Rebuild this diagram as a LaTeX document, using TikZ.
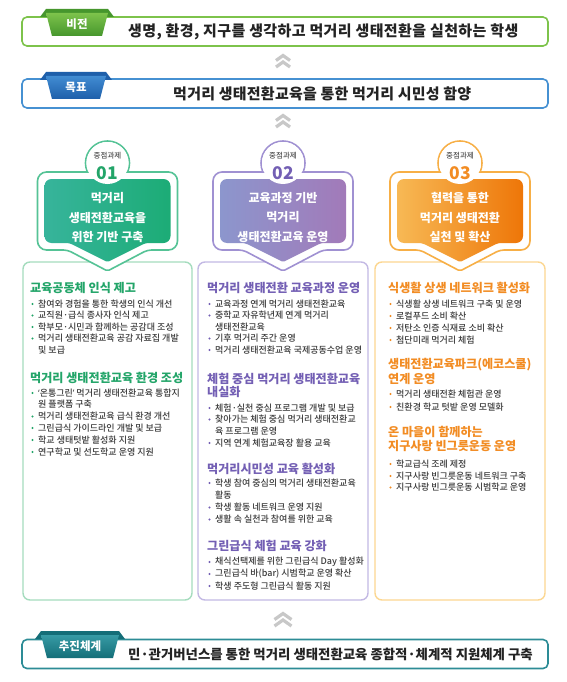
\documentclass[tikz,border=0pt]{standalone}
\usepackage{fontspec}
\setmainfont{Noto Sans CJK KR}
\newfontfamily\medf{Noto Sans CJK KR Medium}
\newfontfamily\latinf{Noto Sans}
\usetikzlibrary{calc}
\definecolor{visG}{RGB}{125,195,75}
\definecolor{visGd}{RGB}{70,150,45}
\definecolor{visGl}{RGB}{125,195,75}
\definecolor{goalB}{RGB}{70,145,210}
\definecolor{goalBd}{RGB}{30,95,170}
\definecolor{goalBl}{RGB}{65,140,210}
\definecolor{botT}{RGB}{45,140,150}
\definecolor{botTd}{RGB}{20,110,120}
\definecolor{botTl}{RGB}{55,155,165}
\definecolor{chev}{RGB}{200,200,200}
\definecolor{txt}{RGB}{35,35,35}
\definecolor{bul}{RGB}{60,60,60}
\definecolor{tagc}{RGB}{80,80,80}
\definecolor{c1a}{RGB}{55,180,155}
\definecolor{c1b}{RGB}{28,172,118}
\definecolor{c1line}{RGB}{85,195,150}
\definecolor{c1box}{RGB}{165,220,190}
\definecolor{c1head}{RGB}{35,165,105}
\definecolor{c2a}{RGB}{140,150,205}
\definecolor{c2b}{RGB}{162,122,185}
\definecolor{c2line}{RGB}{160,145,210}
\definecolor{c2box}{RGB}{195,185,228}
\definecolor{c2head}{RGB}{115,95,180}
\definecolor{c3a}{RGB}{247,185,85}
\definecolor{c3b}{RGB}{238,118,8}
\definecolor{c3line}{RGB}{247,175,70}
\definecolor{c3box}{RGB}{252,215,145}
\definecolor{c3head}{RGB}{242,140,35}
\tikzset{
  banner/.style={minimum width=526, minimum height=29, rounded corners=5, line width=1.6, fill=white, inner sep=0},
  tabtext/.style={inner sep=0, text=white, font=\bfseries\fontsize{11.5}{13}\selectfont},
  bantext/.style={anchor=west, inner sep=0, text=txt, font=\bfseries\fontsize{15}{17}\selectfont},
  colbox/.style={minimum height=338, rounded corners=7, line width=1.4, fill=white, inner sep=0},
  hd/.style={anchor=west, inner sep=0, font=\bfseries\fontsize{12.1}{14}\selectfont},
  it/.style={anchor=west, inner sep=0, text=bul, font=\medf\fontsize{9}{10}\selectfont},
  hdw/.style={inner sep=0, text=white, align=center, font=\bfseries\fontsize{12}{19.5}\selectfont},
  chevline/.style={chev, line width=3.2, line cap=butt, line join=miter}
}
\newcommand\ribbon[5]{%
  \fill[#4] (#1-6,#3) -- (#1,#3-8) -- (#2,#3-8) -- (#2+6,#3) -- cycle;
  \shade[top color=#5, bottom color=#4] (#1,#3-4) -- (#2,#3-4) -- (#2-6,#3+19) -- (#1+6,#3+19) -- cycle;}
\newcommand\chevs[4]{%
  \draw[chevline] (#1-#3,#2+#4) -- (#1,#2) -- (#1+#3,#2+#4);
  \draw[chevline] (#1-#3,#2+#4+6.5) -- (#1,#2+6.5) -- (#1+#3,#2+#4+6.5);}
\newcommand\itm[5]{\fill[#2] (#3+2.5,#4) circle (1.2); \node[it] (#1) at (#3+8,#4) {#5};}
\newcommand\cnt[4]{\node[it] (#1) at (#2+8,#3) {#4};}
\newcommand\colhdr[8]{%
  \draw[#4, line width=1.6, fill=white] (#1,163) circle (22);
  \draw[#4, line width=1.6, fill=white, rounded corners=9] (#1,172) -- (#1+70,172) -- (#1+70,250) [rounded corners=4] -- (#1+40,250) [rounded corners=2] -- (#1,271) [rounded corners=4] -- (#1-40,250) [rounded corners=9] -- (#1-70,250) -- (#1-70,172) -- cycle;
  \shade[left color=#2, right color=#3, rounded corners=7] (#1,179) -- (#1+63,179) -- (#1+63,243) [rounded corners=3] -- (#1+38,243) [rounded corners=1.5] -- (#1,262) [rounded corners=3] -- (#1-38,243) [rounded corners=7] -- (#1-63,243) -- (#1-63,179) -- cycle;
  \fill[white] (#1,163) circle (21);
  \node[inner sep=0, font=\medf\fontsize{7.5}{8}\selectfont, text=tagc] (#6tag) at (#1,155.5) {중점과제};
  \node[inner sep=0, font=\bfseries\fontsize{17.5}{18}\selectfont, text=#5] (#6num) at (#1,173) {#7};
  \node[hdw] (#6title) at (#1,217.5) {#8};}
\begin{document}
\begin{tikzpicture}[x=1pt,y=-1pt]
\useasboundingbox[fill=white] (0,0) rectangle (566,682);

% ---------- Vision ----------
\node[banner, draw=visG] (vision) at (285,31.5) {};
\ribbon{46}{108}{17}{visGd}{visGl}
\node[tabtext] (visiontab) at (77,24.5) {비전};
\node[bantext] (visiontext) at (128,31.5) {\addfontfeature{LetterSpace=2.7}생명, 환경, 지구를 생각하고 먹거리 생태전환을 실천하는 학생};

\chevs{283}{55.5}{7}{5}

% ---------- Goal ----------
\node[banner, draw=goalB] (goal) at (285,93.5) {};
\ribbon{46}{106}{80}{goalBd}{goalBl}
\node[tabtext] (goaltab) at (76,87.5) {목표};
\node[bantext] (goaltext) at (173,93.5) {\addfontfeature{LetterSpace=1.7}먹거리 생태전환교육을 통한 먹거리 시민성 함양};

\chevs{283}{115.5}{7}{5}

% ---------- Column boxes ----------
\node[colbox, draw=c1box, minimum width=169] (box1) at (107.5,431) {};
\node[colbox, draw=c2box, minimum width=170] (box2) at (283,431) {};
\node[colbox, draw=c3box, minimum width=170] (box3) at (460,431) {};

% ---------- Column headers ----------
\colhdr{107.5}{c1a}{c1b}{c1line}{c1head}{k1}{01}{먹거리\\생태전환교육을\\위한 기반 구축}
\colhdr{283}{c2a}{c2b}{c2line}{c2head}{k2}{02}{교육과정 기반\\먹거리\\생태전환교육 운영}
\colhdr{460}{c3a}{c3b}{c3line}{c3head}{k3}{03}{협력을 통한\\먹거리 생태전환\\실천 및 확산}

% ---------- Column 1 ----------
\node[hd, text=c1head] (c1h1) at (30,288) {교육공동체 인식 제고};
\itm{c1i1}{c1head}{30}{304}{참여와 경험을 통한 학생의 인식 개선}
\itm{c1i2}{c1head}{30}{315.5}{교직원·급식 종사자 인식 제고}
\itm{c1i3}{c1head}{30}{327}{학부모·시민과 함께하는 공감대 조성}
\itm{c1i4}{c1head}{30}{338.5}{먹거리 생태전환교육 공감 자료집 개발}
\cnt{c1i4b}{30}{350}{및 보급}
\node[hd, text=c1head] (c1h2) at (30,378) {먹거리 생태전환교육 환경 조성};
\itm{c1i5}{c1head}{30}{393}{{\latinf ‘}온통그린{\latinf ’} 먹거리 생태전환교육 통합지}
\cnt{c1i5b}{30}{404.5}{원 플랫폼 구축}
\itm{c1i6}{c1head}{30}{416.5}{먹거리 생태전환교육 급식 환경 개선}
\itm{c1i7}{c1head}{30}{428}{그린급식 가이드라인 개발 및 보급}
\itm{c1i8}{c1head}{30}{440}{학교 생태텃밭 활성화 지원}
\itm{c1i9}{c1head}{30}{452}{연구학교 및 선도학교 운영 지원}

% ---------- Column 2 ----------
\node[hd, text=c2head] (c2h1) at (207,288) {먹거리 생태전환 교육과정 운영};
\itm{c2i1}{c2head}{207}{304}{교육과정 연계 먹거리 생태전환교육}
\itm{c2i2}{c2head}{207}{315.5}{중학교 자유학년제 연계 먹거리}
\cnt{c2i2b}{207}{327}{생태전환교육}
\itm{c2i3}{c2head}{207}{338.5}{기후 먹거리 주간 운영}
\itm{c2i4}{c2head}{207}{350}{먹거리 생태전환교육 국제공동수업 운영}
\node[hd, text=c2head] (c2h2) at (207,379) {체험 중심 먹거리 생태전환교육};
\node[hd, text=c2head] (c2h2b) at (207,392) {내실화};
\itm{c2i5}{c2head}{207}{408}{체험·실천 중심 프로그램 개발 및 보급}
\itm{c2i6}{c2head}{207}{419.5}{찾아가는 체험 중심 먹거리 생태전환교}
\cnt{c2i6b}{207}{431.5}{육 프로그램 운영}
\itm{c2i7}{c2head}{207}{443}{지역 연계 체험교육장 활용 교육}
\node[hd, text=c2head] (c2h3) at (207,469) {먹거리시민성 교육 활성화};
\itm{c2i8}{c2head}{207}{483}{학생 참여 중심의 먹거리 생태전환교육}
\cnt{c2i8b}{207}{495}{활동}
\itm{c2i9}{c2head}{207}{507.5}{학생 활동 네트워크 운영 지원}
\itm{c2i10}{c2head}{207}{519.5}{생활 속 실천과 참여를 위한 교육}
\node[hd, text=c2head] (c2h4) at (207,546) {그린급식 체험 교육 강화};
\itm{c2i11}{c2head}{207}{562}{채식선택제를 위한 그린급식 Day 활성화}
\itm{c2i12}{c2head}{207}{574}{그린급식 바(bar) 시범학교 운영 확산}
\itm{c2i13}{c2head}{207}{586}{학생 주도형 그린급식 활동 지원}

% ---------- Column 3 ----------
\node[hd, text=c3head] (c3h1) at (388,288) {식생활 상생 네트워크 활성화};
\itm{c3i1}{c3head}{388}{304}{식생활 상생 네트워크 구축 및 운영}
\itm{c3i2}{c3head}{388}{316}{로컬푸드 소비 확산}
\itm{c3i3}{c3head}{388}{328}{저탄소 인증 식재료 소비 확산}
\itm{c3i4}{c3head}{388}{340}{첨단미래 먹거리 체험}
\node[hd, text=c3head] (c3h2) at (388,365) {생태전환교육파크(에코스쿨)};
\node[hd, text=c3head] (c3h2b) at (388,379) {연계 운영};
\itm{c3i5}{c3head}{388}{394}{먹거리 생태전환 체험관 운영}
\itm{c3i6}{c3head}{388}{407}{친환경 학교 텃밭 운영 모델화}
\node[hd, text=c3head] (c3h3) at (388,432) {온 마을이 함께하는};
\node[hd, text=c3head] (c3h3b) at (388,446) {지구사랑 빈그릇운동 운영};
\itm{c3i7}{c3head}{388}{464}{학교급식 조례 제정}
\itm{c3i8}{c3head}{388}{476}{지구사랑 빈그릇운동 네트워크 구축}
\itm{c3i9}{c3head}{388}{487.5}{지구사랑 빈그릇운동 시범학교 운영}

\chevs{283}{613.5}{8.5}{6}

% ---------- Bottom ----------
\node[banner, draw=botT] (plan) at (285,654) {};
\ribbon{41}{119}{639}{botTd}{botTl}
\node[tabtext] (plantab) at (80,646.5) {추진체계};
\node[bantext, font=\bfseries\fontsize{13.4}{15}\selectfont] (plantext) at (128,654.5) {민·관거버넌스를 통한 먹거리 생태전환교육 종합적·체계적 지원체계 구축};
\end{tikzpicture}
\end{document}
